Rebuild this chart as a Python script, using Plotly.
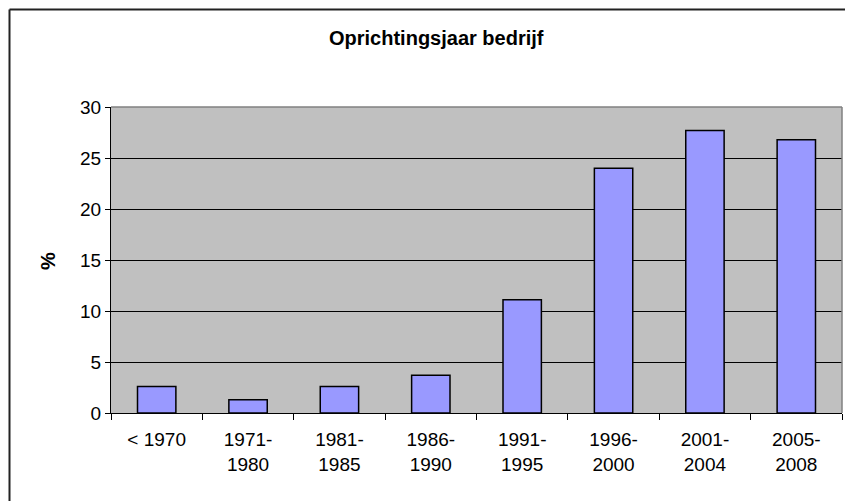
import plotly.graph_objects as go

categories = ["< 1970", "1971-<br>1980", "1981-<br>1985", "1986-<br>1990",
              "1991-<br>1995", "1996-<br>2000", "2001-<br>2004", "2005-<br>2008"]
values = [2.6, 1.3, 2.6, 3.7, 11.1, 24.0, 27.7, 26.8]
y_ticks = [0, 5, 10, 15, 20, 25, 30]

W, H = 845, 501
L, R, T, B = 111, 3, 107, 88
pw, ph = W - L - R, H - T - B

def px_x(x):
    return (x - L) / pw

def px_y(y):
    return (H - B - y) / ph

fig = go.Figure(go.Bar(
    x=categories, y=values,
    marker=dict(color="#9999FF", line=dict(color="black", width=1.5)),
    width=0.42,
))

fig.update_layout(
    width=W, height=H,
    margin=dict(l=L, r=R, t=T, b=B, pad=0),
    paper_bgcolor="white",
    plot_bgcolor="#C0C0C0",
    showlegend=False,
    font=dict(family="Liberation Sans, Arial, sans-serif", color="black", size=19),
    xaxis=dict(
        showgrid=False, showline=True, linecolor="black", linewidth=1,
        ticks="outside", ticklen=6, tickcolor="black", tickson="boundaries",
        tickfont=dict(size=19), ticklabelstandoff=9,
    ),
    yaxis=dict(
        range=[0, 30], tickvals=y_ticks, showgrid=True, gridcolor="black", gridwidth=1,
        showline=True, linecolor="black", linewidth=1,
        ticks="outside", ticklen=5, tickcolor="black", zeroline=False,
        tickfont=dict(size=19),
    ),
    annotations=[
        dict(text="<b>Oprichtingsjaar bedrijf</b>", xref="paper", yref="paper",
             x=px_x(436), y=px_y(38), showarrow=False, font=dict(size=20),
             xanchor="center", yanchor="middle"),
        dict(text="<b>%</b>", xref="paper", yref="paper",
             x=px_x(48), y=px_y(261), showarrow=False, textangle=-90,
             font=dict(size=20), xanchor="center", yanchor="middle"),
    ],
    shapes=[
        dict(type="line", xref="paper", yref="paper", x0=0, x1=1, y0=1, y1=1,
             line=dict(color="#808080", width=1.5)),
        dict(type="line", xref="paper", yref="paper", x0=1, x1=1, y0=0, y1=1,
             line=dict(color="#808080", width=1.5)),
        dict(type="line", xref="paper", yref="paper", x0=px_x(9.5), x1=px_x(850),
             y0=px_y(9.5), y1=px_y(9.5), line=dict(color="#222222", width=2)),
        dict(type="line", xref="paper", yref="paper", x0=px_x(9.5), x1=px_x(9.5),
             y0=px_y(9.5), y1=px_y(510), line=dict(color="#222222", width=2)),
    ],
)

fig.write_html(
    "out.html",
    config={"displayModeBar": False},
    post_script="document.body.style.margin='0';document.body.style.overflow='hidden';",
)
